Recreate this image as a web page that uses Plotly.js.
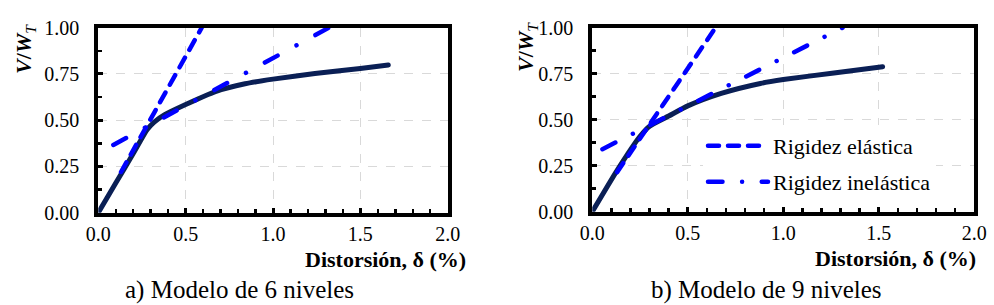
<!DOCTYPE html>
<html>
<head>
<meta charset="utf-8">
<script src="https://cdn.plot.ly/plotly-3.0.1.min.js"></script>
<style>
  html, body { margin: 0; padding: 0; background: #fff; }
  #chart { width: 994px; height: 305px; }
  path.js-line, .legendlines path { stroke-linecap: round; stroke-linejoin: round; }
</style>
</head>
<body>
<div id="chart"></div>
<script>
// ---- Data ----
// a) 6-level model
const delta6 = [0, 0.10, 0.20, 0.28, 0.32, 0.38, 0.50, 0.67, 0.84, 1.00, 1.24, 1.50, 1.66];
const v6     = [0, 0.16, 0.32, 0.45, 0.49, 0.53, 0.585, 0.655, 0.697, 0.722, 0.752, 0.780, 0.798];
const elastic6X   = [0.13, 0.592];
const elastic6Y   = [0.22, 1.00];
const inelastic6X = [0.086, 1.32];
const inelastic6Y = [0.366, 1.00];

// b) 9-level model
const delta9 = [0, 0.13, 0.25, 0.30, 0.40, 0.50, 0.675, 0.88, 1.00, 1.265, 1.52];
const v9     = [0, 0.225, 0.41, 0.465, 0.52, 0.575, 0.643, 0.697, 0.718, 0.754, 0.788];
const elastic9X   = [0.13, 0.645];
const elastic9Y   = [0.215, 1.00];
const inelastic9X = [0.053, 1.31];
const inelastic9Y = [0.34, 1.00];

const xTicks = [0, 0.5, 1.0, 1.5, 2.0];
const yTicks = [0, 0.25, 0.5, 0.75, 1.0];
const legendNames = ['Rigidez elástica', 'Rigidez inelástica'];
const xTitle = '<b>Distorsión, δ (%)</b>';
const yTitle = '<b><i>V</i>/<i>W</i></b><sub><i>T</i></sub>';
const captions = ['a) Modelo de 6 niveles', 'b) Modelo de 9 niveles'];

// ---- Styles ----
const FONT = 'Liberation Serif';
const NAVY = '#0a1f55';
const BLUE = '#0000ff';
const dashElastic = '11px,9px';
const dashInelasticA = '14.5px,21.5px,0.01px,21.5px';
const dashInelasticB = '14.5px,19.6px,0.01px,19.6px';

const W = 994, H = 305;
const px = v => v / W;
const py = v => (H - v) / H;

const traces = [
  {x: delta6, y: v6, xaxis: 'x', yaxis: 'y', mode: 'lines', showlegend: false,
   line: {color: NAVY, width: 5, shape: 'spline', smoothing: 0.6}},
  {x: elastic6X, y: elastic6Y, xaxis: 'x', yaxis: 'y', mode: 'lines', showlegend: false,
   line: {color: BLUE, width: 4.5, dash: dashElastic}},
  {x: inelastic6X, y: inelastic6Y, xaxis: 'x', yaxis: 'y', mode: 'lines', showlegend: false,
   line: {color: BLUE, width: 4.5, dash: dashInelasticA}},
  {x: delta9, y: v9, xaxis: 'x2', yaxis: 'y2', mode: 'lines', showlegend: false,
   line: {color: NAVY, width: 5, shape: 'spline', smoothing: 0.6}},
  {x: elastic9X, y: elastic9Y, xaxis: 'x2', yaxis: 'y2', mode: 'lines', name: legendNames[0],
   legend: 'legend', line: {color: BLUE, width: 4.5, dash: dashElastic}},
  {x: inelastic9X, y: inelastic9Y, xaxis: 'x2', yaxis: 'y2', mode: 'lines', name: legendNames[1],
   legend: 'legend2', line: {color: BLUE, width: 4.5, dash: dashInelasticB}}
];

function xAxis(domain, anchor) {
  return {
    domain: domain, anchor: anchor, range: [0, 2], tickvals: xTicks,
    ticktext: xTicks.map(v => v.toFixed(1)),
    ticks: 'inside', ticklen: 5, tickwidth: 3, tickcolor: '#000',
    showline: true, linewidth: 4, linecolor: '#000', mirror: true,
    showgrid: true, gridcolor: '#d9d9d9', gridwidth: 1, griddash: 'dash',
    zeroline: false, fixedrange: true,
    minor: {dtick: 0.1, ticks: 'inside', ticklen: 4, tickwidth: 2.5, tickcolor: '#000', showgrid: false},
    tickfont: {family: FONT, size: 20, color: '#000'}
  };
}
function yAxis(domain, anchor) {
  return {
    domain: domain, anchor: anchor, range: [0, 1], tickvals: yTicks,
    ticktext: yTicks.map(v => v.toFixed(2)),
    ticks: 'inside', ticklen: 5, tickwidth: 3, tickcolor: '#000',
    showline: true, linewidth: 4, linecolor: '#000', mirror: true,
    showgrid: true, gridcolor: '#d9d9d9', gridwidth: 1, griddash: 'dash',
    zeroline: false, fixedrange: true, ticklabelstandoff: 11,
    minor: {dtick: 0.125, ticks: 'inside', ticklen: 4, tickwidth: 2.5, tickcolor: '#000', showgrid: false},
    tickfont: {family: FONT, size: 20, color: '#000'}
  };
}

const legendBase = {
  xanchor: 'left', yanchor: 'middle', bgcolor: '#ffffff', borderwidth: 0,
  itemwidth: 60, font: {family: FONT, size: 22, color: '#000'}, itemclick: false, itemdoubleclick: false
};

const layout = {
  width: W, height: H,
  margin: {l: 0, r: 0, t: 0, b: 0},
  paper_bgcolor: '#fff', plot_bgcolor: '#fff',
  font: {family: FONT, color: '#000'},
  xaxis: xAxis([px(98.3), px(447.7)], 'y'),
  yaxis: yAxis([py(212.7), py(27.7)], 'x'),
  xaxis2: xAxis([px(592.3), px(974.3)], 'y2'),
  yaxis2: yAxis([py(211.7), py(27.7)], 'x2'),
  legend: Object.assign({x: px(703), y: py(146)}, legendBase),
  legend2: Object.assign({x: px(703), y: py(182)}, legendBase),
  annotations: [
    {text: xTitle, xref: 'paper', yref: 'paper', x: px(468), y: py(259), xanchor: 'right', yanchor: 'middle',
     showarrow: false, font: {family: FONT, size: 22, color: '#000'}},
    {text: xTitle, xref: 'paper', yref: 'paper', x: px(978), y: py(258), xanchor: 'right', yanchor: 'middle',
     showarrow: false, font: {family: FONT, size: 22, color: '#000'}},
    {text: captions[0], xref: 'paper', yref: 'paper', x: px(239), y: py(290), xanchor: 'center', yanchor: 'middle',
     showarrow: false, font: {family: FONT, size: 25, color: '#000'}},
    {text: captions[1], xref: 'paper', yref: 'paper', x: px(766), y: py(290), xanchor: 'center', yanchor: 'middle',
     showarrow: false, font: {family: FONT, size: 25, color: '#000'}},
    {text: yTitle, xref: 'paper', yref: 'paper', x: px(25), y: py(49), xanchor: 'center', yanchor: 'middle',
     textangle: -90, showarrow: false, font: {family: FONT, size: 22, color: '#000'}},
    {text: yTitle, xref: 'paper', yref: 'paper', x: px(527), y: py(47), xanchor: 'center', yanchor: 'middle',
     textangle: -90, showarrow: false, font: {family: FONT, size: 22, color: '#000'}}
  ]
};

Plotly.newPlot('chart', traces, layout, {staticPlot: true, displayModeBar: false});
</script>
</body>
</html>
